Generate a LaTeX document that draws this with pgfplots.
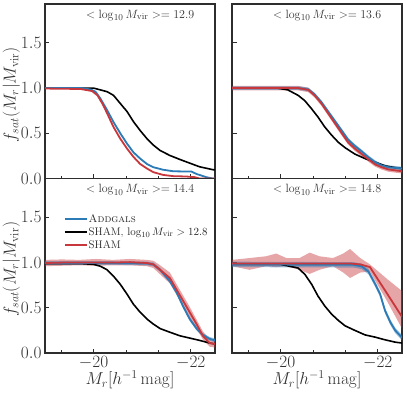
\documentclass[border=0pt]{standalone}
\usepackage{pgfplots}
\pgfplotsset{compat=1.18}
\usepackage{pgfplotstable}
\definecolor{cblue}{RGB}{44,123,182}
\definecolor{cred}{RGB}{200,55,60}
\definecolor{frame}{RGB}{45,45,45}

% ---------- top-left ----------
\pgfplotstableread{
x y
-19.00 1.00
-20.00 1.00
-20.28 0.96
-20.41 0.92
-20.55 0.83
-20.69 0.74
-20.82 0.63
-20.96 0.53
-21.10 0.44
-21.23 0.37
-21.37 0.31
-21.57 0.255
-21.78 0.21
-21.98 0.17
-22.18 0.13
-22.46 0.097
-22.50 0.095
}\blkA
\pgfplotstableread{
x y
-19.00 1.00
-19.73 1.00
-19.94 0.985
-20.04 0.96
-20.14 0.885
-20.28 0.755
-20.41 0.625
-20.55 0.50
-20.69 0.385
-20.82 0.29
-20.96 0.22
-21.10 0.16
-21.23 0.125
-21.43 0.097
-21.64 0.08
-21.84 0.078
-22.01 0.078
-22.12 0.05
-22.32 0.015
-22.45 0.0
-22.50 0.0
}\bluA
\pgfplotstableread{
x y
-19.00 0.995
-19.73 0.99
-19.97 0.967
-20.08 0.92
-20.18 0.83
-20.28 0.72
-20.41 0.57
-20.55 0.44
-20.69 0.33
-20.82 0.24
-20.96 0.16
-21.10 0.11
-21.23 0.07
-21.43 0.04
-21.64 0.026
-21.91 0.022
-22.08 0.015
-22.18 0.0
-22.50 0.0
}\redA
% ---------- top-right ----------
\pgfplotstableread{
x y
-19.00 1.00
-19.94 1.00
-20.15 0.98
-20.36 0.92
-20.50 0.86
-20.64 0.77
-20.77 0.68
-20.91 0.57
-21.05 0.48
-21.19 0.40
-21.33 0.34
-21.53 0.27
-21.74 0.22
-21.95 0.18
-22.15 0.14
-22.36 0.12
-22.50 0.11
}\blkB
\pgfplotstableread{
x y
-19.00 1.00
-20.36 1.00
-20.57 0.985
-20.70 0.93
-20.84 0.845
-20.98 0.74
-21.12 0.635
-21.26 0.53
-21.39 0.43
-21.53 0.36
-21.67 0.30
-21.81 0.235
-21.95 0.18
-22.08 0.145
-22.22 0.125
-22.43 0.115
-22.50 0.11
}\bluB
\pgfplotstableread{
x y
-19.00 1.00
-20.36 1.00
-20.57 0.98
-20.70 0.92
-20.84 0.83
-20.98 0.72
-21.12 0.61
-21.26 0.50
-21.39 0.40
-21.53 0.33
-21.67 0.27
-21.81 0.21
-21.95 0.155
-22.08 0.125
-22.22 0.10
-22.43 0.085
-22.50 0.08
}\redB
% ---------- bottom-left ----------
\pgfplotstableread{
x y
-19.00 0.99
-19.73 0.99
-20.00 0.98
-20.14 0.96
-20.28 0.92
-20.41 0.85
-20.55 0.76
-20.69 0.65
-20.82 0.54
-20.96 0.45
-21.10 0.375
-21.23 0.32
-21.37 0.27
-21.57 0.23
-21.78 0.19
-21.98 0.165
-22.18 0.14
-22.39 0.11
-22.50 0.10
}\blkC
\pgfplotstableread{
x y
-19.00 0.995
-19.70 0.995
-20.40 0.995
-21.10 0.99
-21.23 0.98
-21.37 0.92
-21.57 0.795
-21.71 0.67
-21.84 0.52
-21.98 0.375
-22.12 0.27
-22.25 0.20
-22.39 0.157
-22.50 0.14
}\bluC
\pgfplotstableread{
x y
-19.00 0.995
-19.35 1.00
-19.70 1.00
-20.05 1.00
-20.40 1.00
-20.75 1.005
-21.10 0.995
-21.23 0.98
-21.37 0.92
-21.57 0.83
-21.71 0.70
-21.84 0.58
-21.98 0.45
-22.12 0.32
-22.25 0.19
-22.39 0.11
-22.50 0.10
}\redC
% ---------- bottom-right ----------
\pgfplotstableread{
x y
-19.00 0.98
-20.00 0.98
-20.36 0.94
-20.50 0.87
-20.64 0.76
-20.77 0.63
-20.91 0.52
-21.05 0.43
-21.19 0.36
-21.33 0.30
-21.53 0.25
-21.74 0.20
-21.95 0.175
-22.15 0.146
-22.36 0.12
-22.50 0.11
}\blkD
\pgfplotstableread{
x y
-19.00 0.98
-21.50 0.975
-21.67 0.958
-21.81 0.90
-21.95 0.76
-22.05 0.65
-22.15 0.47
-22.26 0.34
-22.36 0.25
-22.50 0.17
}\bluD
\pgfplotstableread{
x y
-19.00 0.99
-19.36 0.99
-19.70 0.99
-19.91 0.99
-20.12 0.99
-20.39 0.99
-20.60 0.99
-20.80 0.99
-21.08 0.99
-21.29 0.99
-21.43 0.99
-21.64 0.98
-21.84 0.95
-22.19 0.66
-22.50 0.40
}\redD

\tikzset{ttl/.style={font=\fontsize{13}{13}\selectfont, text=black!80}}
\pgfplotsset{panel/.style={
  scale only axis, width=170pt, height=174.5pt, anchor=south west,
  xmin=-22.5, xmax=-19, x dir=reverse, ymin=0, ymax=1.93,
  xtick={-20,-22}, minor xtick={-19.3333,-20.6667,-21.3333},
  ytick={0,0.5,1,1.5},
  tick align=inside, xtick pos=bottom, ytick pos=left,
  axis line style={draw=frame, line width=1.1pt},
  major tick style={draw=frame, line width=0.9pt}, major tick length=4.5pt,
  minor tick style={draw=frame, line width=0.7pt}, minor tick length=2.8pt,
  tick label style={font=\fontsize{16}{16}\selectfont, text=black!80},
  yticklabel style={/pgf/number format/.cd, fixed, fixed zerofill, precision=1},
  label style={font=\fontsize{17}{17}\selectfont, text=black!80},
  xlabel style={at={(axis description cs:0.5,-0.155)}, anchor=center},
  ylabel style={at={(axis description cs:-0.198,0.48)}, anchor=center, inner sep=0pt},
},
bandR/.style={fill=cred, fill opacity=0.45, draw=none, forget plot},
bandB/.style={fill=cblue, fill opacity=0.45, draw=none, forget plot},
lR/.style={cred, line width=1.8pt, forget plot},
lB/.style={cblue, line width=1.8pt, forget plot},
lK/.style={black, line width=1.6pt, forget plot},
}

\begin{document}
\begin{tikzpicture}
\useasboundingbox (0pt,0pt) rectangle (407pt,394pt);

% top-left
\begin{axis}[panel, at={(45pt,215.5pt)}, xticklabels={},
  ylabel={$f_{sat}(M_r|M_{\rm vir})$}]
\addplot[lK] table[x=x,y=y]{\blkA};
\addplot[lB] table[x=x,y=y]{\bluA};
\addplot[lR] table[x=x,y=y]{\redA};
\node[ttl] at (rel axis cs:0.56,0.935) {$<\log_{10}M_{\rm vir}>= 12.9$};
\end{axis}

% top-right
\begin{axis}[panel, at={(232pt,215.5pt)}, xticklabels={}, yticklabels={}]
\addplot[bandR] coordinates {(-19.00,1.025) (-20.36,1.025) (-20.57,1.005) (-20.70,0.945) (-20.84,0.855) (-20.98,0.745) (-21.12,0.635) (-21.26,0.525) (-21.39,0.425) (-21.53,0.355) (-21.67,0.295) (-21.81,0.235) (-21.95,0.18) (-22.08,0.15) (-22.22,0.125) (-22.43,0.11) (-22.50,0.105)
 (-22.50,0.055) (-22.43,0.06) (-22.22,0.075) (-22.08,0.10) (-21.95,0.13) (-21.81,0.185) (-21.67,0.245) (-21.53,0.305) (-21.39,0.375) (-21.26,0.475) (-21.12,0.585) (-20.98,0.695) (-20.84,0.805) (-20.70,0.895) (-20.57,0.955) (-20.36,0.975) (-19.00,0.975)};
\addplot[bandB] coordinates {(-19.00,1.02) (-20.36,1.02) (-20.57,1.005) (-20.70,0.95) (-20.84,0.865) (-20.98,0.76) (-21.12,0.655) (-21.26,0.55) (-21.39,0.45) (-21.53,0.38) (-21.67,0.32) (-21.81,0.255) (-21.95,0.20) (-22.08,0.165) (-22.22,0.145) (-22.43,0.135) (-22.50,0.13)
 (-22.50,0.09) (-22.43,0.095) (-22.22,0.105) (-22.08,0.125) (-21.95,0.16) (-21.81,0.215) (-21.67,0.28) (-21.53,0.34) (-21.39,0.41) (-21.26,0.51) (-21.12,0.615) (-20.98,0.72) (-20.84,0.825) (-20.70,0.91) (-20.57,0.965) (-20.36,0.98) (-19.00,0.98)};
\addplot[lK] table[x=x,y=y]{\blkB};
\addplot[lB] table[x=x,y=y]{\bluB};
\addplot[lR] table[x=x,y=y]{\redB};
\node[ttl] at (rel axis cs:0.56,0.935) {$<\log_{10}M_{\rm vir}>= 13.6$};
\end{axis}

% bottom-left
\begin{axis}[panel, at={(45pt,41pt)},
  xlabel={$M_r[h^{-1}\,\mathrm{mag}]$},
  ylabel={$f_{sat}(M_r|M_{\rm vir})$},
  legend style={draw=none, fill=none, at={(rel axis cs:0.11,0.80)}, anchor=north west,
    font=\fontsize{11}{11}\selectfont, text=black!85, row sep=1.5pt, inner sep=0pt,
    nodes={inner sep=1pt}},
  legend cell align=left]
\addlegendimage{legend image code/.code={\draw[cblue, line width=1.8pt] (0pt,0pt) -- (22pt,0pt);}}
\addlegendentry{\textsc{Addgals}}
\addlegendimage{legend image code/.code={\draw[black, line width=1.6pt] (0pt,0pt) -- (22pt,0pt);}}
\addlegendentry{SHAM, $\log_{10}M_{\rm vir}>12.8$}
\addlegendimage{legend image code/.code={\draw[cred, line width=1.8pt] (0pt,0pt) -- (22pt,0pt);}}
\addlegendentry{SHAM}
\addplot[bandR] coordinates {(-19.00,1.03) (-19.35,1.035) (-19.70,1.03) (-20.05,1.04) (-20.40,1.03) (-20.75,1.04) (-21.10,1.03) (-21.23,1.02) (-21.37,0.97) (-21.57,0.89) (-21.71,0.76) (-21.84,0.64) (-21.98,0.51) (-22.12,0.37) (-22.25,0.24) (-22.39,0.15) (-22.50,0.14)
 (-22.50,0.06) (-22.39,0.07) (-22.25,0.15) (-22.12,0.27) (-21.98,0.39) (-21.84,0.52) (-21.71,0.64) (-21.57,0.77) (-21.37,0.87) (-21.23,0.94) (-21.10,0.96) (-20.75,0.97) (-20.40,0.97) (-20.05,0.965) (-19.70,0.97) (-19.35,0.965) (-19.00,0.96)};
\addplot[bandB] coordinates {(-19.00,1.015) (-19.70,1.015) (-20.40,1.015) (-21.10,1.01) (-21.23,1.00) (-21.37,0.94) (-21.57,0.815) (-21.71,0.69) (-21.84,0.54) (-21.98,0.395) (-22.12,0.29) (-22.25,0.22) (-22.39,0.177) (-22.50,0.16)
 (-22.50,0.12) (-22.39,0.137) (-22.25,0.18) (-22.12,0.25) (-21.98,0.355) (-21.84,0.50) (-21.71,0.65) (-21.57,0.775) (-21.37,0.90) (-21.23,0.96) (-21.10,0.97) (-20.40,0.975) (-19.70,0.975) (-19.00,0.975)};
\addplot[lK] table[x=x,y=y]{\blkC};
\addplot[lB] table[x=x,y=y]{\bluC};
\addplot[lR] table[x=x,y=y]{\redC};
\node[ttl] at (rel axis cs:0.56,0.935) {$<\log_{10}M_{\rm vir}>= 14.4$};
\end{axis}

% bottom-right
\begin{axis}[panel, at={(232pt,41pt)}, yticklabels={},
  xlabel={$M_r[h^{-1}\,\mathrm{mag}]$}]
\addplot[bandR] coordinates {(-19.00,1.03) (-19.36,1.05) (-19.70,1.07) (-19.91,1.10) (-20.12,1.05) (-20.39,1.05) (-20.60,1.11) (-20.80,1.07) (-21.08,1.05) (-21.29,1.10) (-21.43,1.15) (-21.64,1.05) (-21.84,0.98) (-22.19,0.82) (-22.50,0.685)
 (-22.50,0.27) (-22.19,0.576) (-21.84,0.90) (-21.64,0.89) (-21.43,0.83) (-21.29,0.89) (-21.08,0.96) (-20.80,0.92) (-20.60,0.875) (-20.39,0.92) (-20.12,0.96) (-19.91,0.95) (-19.70,0.96) (-19.36,0.92) (-19.00,0.96)};
\addplot[bandB] coordinates {(-19.00,1.01) (-21.50,1.005) (-21.67,0.988) (-21.81,0.93) (-21.95,0.79) (-22.05,0.68) (-22.15,0.50) (-22.26,0.37) (-22.36,0.28) (-22.50,0.20)
 (-22.50,0.14) (-22.36,0.22) (-22.26,0.31) (-22.15,0.44) (-22.05,0.62) (-21.95,0.73) (-21.81,0.87) (-21.67,0.928) (-21.50,0.945) (-19.00,0.95)};
\addplot[lK] table[x=x,y=y]{\blkD};
\addplot[lB] table[x=x,y=y]{\bluD};
\addplot[lR] table[x=x,y=y]{\redD};
\node[ttl] at (rel axis cs:0.56,0.935) {$<\log_{10}M_{\rm vir}>= 14.8$};
\end{axis}
\end{tikzpicture}
\end{document}
